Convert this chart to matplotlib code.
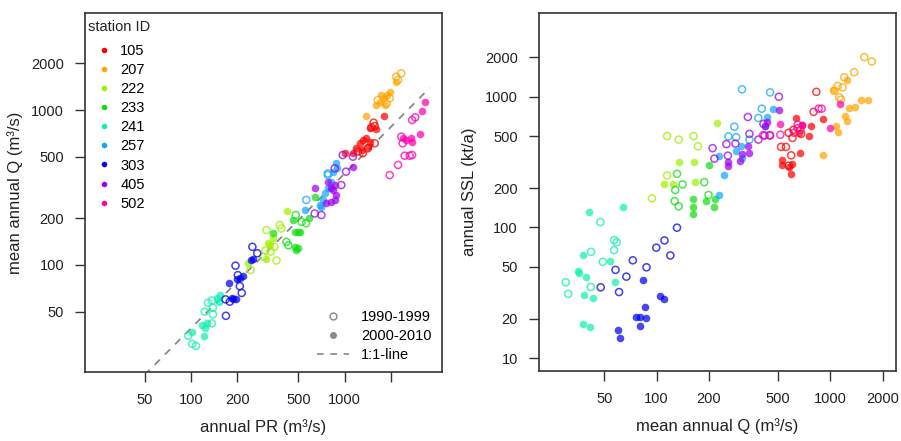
import numpy as np
import matplotlib
matplotlib.use("Agg")
import matplotlib.pyplot as plt
from matplotlib.lines import Line2D

plt.rcParams["font.family"] = ["Liberation Sans", "DejaVu Sans"]

stations = ["105", "207", "222", "233", "241", "257", "303", "405", "502"]
colors = ["#FF0000", "#FFA500", "#A0F000", "#10E010", "#10F0B0",
          "#10A8FF", "#0000F0", "#A000F0", "#FF00B0"]

# left panel: annual PR vs mean annual Q
pr_q_9099 = {
    "105": [(1567, 610), (1410, 566), (1310, 526), (1220, 540), (1540, 828), (1567, 788), (1490, 773)],
    "207": [(1640, 1160), (1870, 1100), (1960, 1190), (2220, 1563), (2330, 1725), (2160, 1640)],
    "222": [(244, 93), (305, 124), (331, 122), (349, 131), (360, 107), (378, 181), (388, 172), (310, 168), (295, 113)],
    "233": [(418, 141), (430, 134), (524, 190), (560, 186), (480, 210)],
    "241": [(96, 35), (102, 31), (108, 30), (137, 42), (139, 48), (129, 57), (137, 59), (139, 53), (123, 50)],
    "257": [(562, 263), (777, 390), (777, 381)],
    "303": [(169, 47), (168, 60), (179, 58), (195, 99), (202, 86), (208, 73), (214, 66), (251, 131), (270, 119)],
    "405": [(950, 328), (1020, 400), (1130, 500), (638, 215), (705, 210), (970, 512), (860, 420)],
    "502": [(2740, 862), (2870, 897), (2330, 673), (2380, 610), (2450, 507), (2640, 507), (2740, 512), (2220, 442), (1960, 380)],
}
pr_q_0010 = {
    "105": [(1000, 526), (1130, 526), (1190, 566), (1250, 610), (1310, 640), (1380, 656), (1450, 624), (1410, 580),
            (1290, 552), (1790, 915), (1450, 762), (1600, 750)],
    "207": [(1370, 915), (1600, 1077), (1690, 1131), (1790, 1190), (1870, 1250), (1820, 1077), (1960, 1313), (1710, 1250), (2160, 1520)],
    "222": [(234, 103), (310, 110), (317, 139), (342, 149), (326, 135), (424, 223)],
    "233": [(473, 164), (497, 164), (460, 195), (638, 276), (473, 131), (485, 125), (342, 160), (590, 200), (510, 164), (497, 128)],
    "241": [(102, 37), (118, 41), (123, 39), (121, 35), (127, 42), (148, 61), (154, 64), (152, 58)],
    "257": [(550, 227), (688, 245), (721, 263), (777, 312), (817, 345), (880, 453), (889, 420), (838, 400), (742, 290), (705, 237)],
    "303": [(176, 77), (184, 61), (196, 60), (188, 60), (198, 81), (208, 83), (218, 85), (245, 107), (253, 109)],
    "405": [(638, 312), (777, 345), (817, 312), (860, 328), (880, 282), (760, 250), (817, 256), (1130, 431), (838, 305), (860, 263)],
    "502": [(3310, 1131), (3170, 985), (3069, 697), (2680, 656), (2740, 624), (2490, 640), (2380, 656)],
}

# right panel: mean annual Q vs annual SSL
q_ssl_9099 = {
    "105": [(830, 1090), (800, 766), (575, 530), (612, 558), (648, 575), (678, 520), (605, 484), (520, 413), (555, 413), (595, 356), (575, 297)],
    "207": [(1567, 2010), (1730, 1860), (1370, 1540), (1200, 1410), (1100, 1210), (1175, 1180), (1055, 1113), (1126, 990), (1150, 950)],
    "222": [(115, 500), (134, 470), (163, 500), (173, 418), (115, 250), (94, 167)],
    "233": [(131, 257), (141, 213), (188, 222), (199, 177), (127, 159), (134, 145), (128, 193)],
    "241": [(47.5, 110), (57, 80), (59, 77), (57, 67), (42, 65), (49, 54.5), (30, 38), (31, 31), (41.8, 35)],
    "257": [(310, 1140), (450, 1080), (403, 810), (385, 688), (280, 590), (259, 497), (287, 490), (342, 470)],
    "303": [(131, 99.5), (111, 79.5), (99.6, 70), (120, 61), (73, 56), (87.5, 49.5), (58, 47.3), (67, 42), (47.7, 34.8), (60.8, 32)],
    "405": [(505, 1000), (335, 700), (412, 620), (342, 520), (385, 470), (418, 505), (447, 508), (210, 404), (215, 336),
            (252, 434), (284, 438), (257, 354)],
    "502": [(856, 810), (890, 810), (648, 612), (672, 558), (618, 530), (515, 512), (450, 505), (410, 508)],
}
q_ssl_0010 = {
    "105": [(910, 680), (775, 600), (757, 497), (630, 690), (690, 612), (658, 530), (670, 371), (530, 327), (602, 308),
            (528, 302), (595, 258), (575, 292)],
    "207": [(1250, 1350), (1030, 1130), (1500, 940), (1640, 940), (1390, 840), (1285, 825), (1220, 716), (1250, 648),
            (1070, 600), (1110, 540), (911, 356)],
    "222": [(223, 635), (134, 315), (165, 318), (110, 216), (124, 213), (167, 222)],
    "233": [(201, 300), (162, 164), (193, 159), (218, 164), (163, 144), (213, 144), (162, 126)],
    "241": [(41, 131), (64, 144), (37.7, 61), (53.7, 55), (35.4, 46), (35.8, 45), (39, 42), (57.4, 38.5), (38, 30.5),
            (43, 29), (37.5, 18.2), (41.6, 17.3)],
    "257": [(466, 810), (430, 700), (423, 600), (307, 422), (287, 383), (310, 340), (230, 350), (244, 250), (228, 178)],
    "303": [(83.5, 39.4), (105, 29.9), (109.7, 28.2), (85.3, 24.4), (75.7, 20.5), (80.6, 20.5), (86.6, 20.2), (80.6, 17.6),
            (60, 16.4), (61.9, 14.3)],
    "405": [(505, 793), (430, 640), (418, 600), (335, 418), (310, 365), (342, 371), (303, 320), (257, 318), (257, 294)],
    "502": [(1140, 875), (990, 580), (515, 620), (690, 612)],
}

line_ratio = 0.39          # the "1:1-line" in these units
line_x = [50, 3565]

left_ticks = [50, 100, 200, 500, 1000, 2000]
left_xlabels = ["50", "100", "200", "500", "1000", ""]
right_xticks = [50, 100, 200, 500, 1000, 2000]
right_yticks = [10, 20, 50, 100, 200, 500, 1000, 2000]

fig = plt.figure(figsize=(9.01, 4.41), dpi=100)
ax1 = fig.add_axes([0.0943, 0.1565, 0.396, 0.814])
ax2 = fig.add_axes([0.598, 0.1587, 0.397, 0.812])

def draw(ax, open_pts, filled_pts):
    for st, c in zip(stations, colors):
        p = np.array(open_pts[st])
        ax.scatter(p[:, 0], p[:, 1], s=26, facecolors="none", edgecolors=c,
                   linewidths=1.1, alpha=0.75, zorder=3)
        p = np.array(filled_pts[st])
        ax.scatter(p[:, 0], p[:, 1], s=30, color=c, linewidths=0, alpha=0.72, zorder=3)

draw(ax1, pr_q_9099, pr_q_0010)
draw(ax2, q_ssl_9099, q_ssl_0010)

lx = np.array(line_x)
ax1.plot(lx, lx * line_ratio, ls=(0, (4, 4)), color="#888888", lw=1.3, zorder=2)

for ax in (ax1, ax2):
    ax.set_xscale("log")
    ax.set_yscale("log")
    ax.minorticks_off()
    for sp in ax.spines.values():
        sp.set_color("#333333")
        sp.set_linewidth(1.2)
    ax.tick_params(direction="out", length=7, width=1, color="#333333",
                   labelsize=10.5, pad=8, labelcolor="#222222")

ax1.set_xlim(20.5, 4270)
ax1.set_ylim(20.4, 4225)
ax1.set_xticks(left_ticks)
ax1.set_xticklabels(left_xlabels)
ax1.set_yticks(left_ticks)
ax1.set_yticklabels([str(t) for t in left_ticks])
ax1.set_xlabel("annual PR (m³/s)", fontsize=12, labelpad=9, color="#222222")
ax1.set_ylabel("mean annual Q (m³/s)", fontsize=12, labelpad=6, color="#222222")

ax2.set_xlim(21, 2400)
ax2.set_ylim(7.96, 4380)
ax2.set_xticks(right_xticks)
ax2.set_xticklabels([str(t) for t in right_xticks])
ax2.set_yticks(right_yticks)
ax2.set_yticklabels([str(t) for t in right_yticks])
ax2.set_xlabel("mean annual Q (m³/s)", fontsize=12, labelpad=9, color="#222222")
ax2.set_ylabel("annual SSL (kt/a)", fontsize=12, labelpad=6, color="#222222")

# station legend
ax1.text(0.008, 0.961, "station ID", transform=ax1.transAxes, fontsize=10.5,
         ha="left", va="center", color="#222222")
handles = [Line2D([], [], ls="none", marker="o", ms=4, color=c, mew=0) for c in colors]
leg = ax1.legend(handles, stations, loc="upper left", frameon=False,
                 fontsize=10.5, handlelength=1.0, handletextpad=0.6, labelspacing=0.35,
                 borderaxespad=0, bbox_to_anchor=(0.017, 0.93))
ax1.add_artist(leg)

# period legend
h2 = [Line2D([], [], ls="none", marker="o", ms=5, mfc="none", mec="#888888", mew=1),
      Line2D([], [], ls="none", marker="o", ms=5, color="#888888", mew=0),
      Line2D([], [], ls=(0, (4, 4)), color="#888888", lw=1.2)]
ax1.legend(h2, ["1990-1999", "2000-2010", "1:1-line"], loc="lower right", frameon=False,
           fontsize=10.5, handlelength=2.2, handletextpad=0.8, labelspacing=0.33,
           borderaxespad=0.3)

fig.savefig("out.png", dpi=100)
